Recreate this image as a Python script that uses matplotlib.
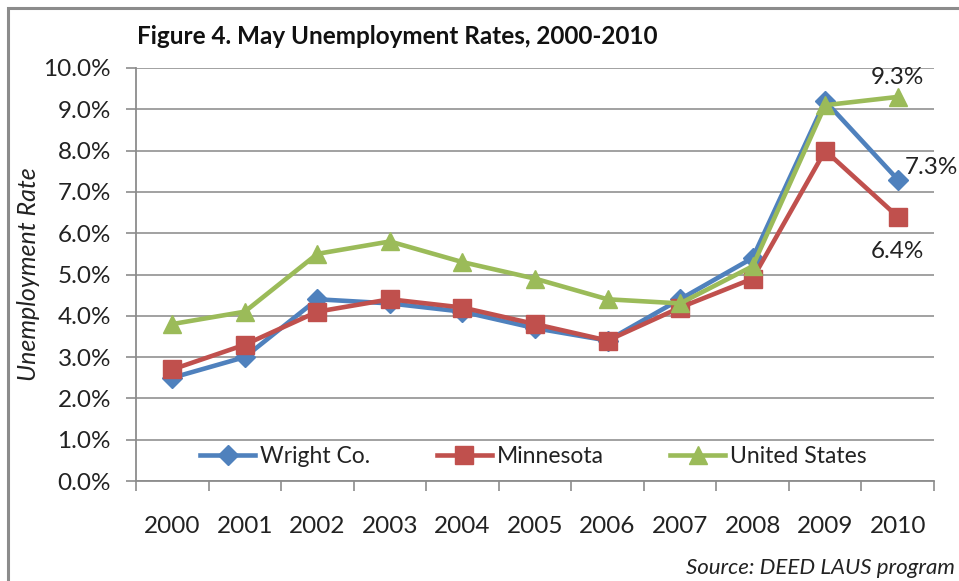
import matplotlib
matplotlib.use("Agg")
import matplotlib.pyplot as plt
from matplotlib.patches import Rectangle
from matplotlib.ticker import FixedLocator, NullFormatter

years = ["2000", "2001", "2002", "2003", "2004", "2005", "2006", "2007", "2008", "2009", "2010"]
wright = [2.5, 3.0, 4.4, 4.3, 4.1, 3.7, 3.4, 4.4, 5.4, 9.2, 7.3]
minnesota = [2.7, 3.3, 4.1, 4.4, 4.2, 3.8, 3.4, 4.2, 4.9, 8.0, 6.4]
united_states = [3.8, 4.1, 5.5, 5.8, 5.3, 4.9, 4.4, 4.3, 5.2, 9.1, 9.3]
yticks = [0, 1, 2, 3, 4, 5, 6, 7, 8, 9, 10]

plt.rcParams['font.family'] = ['Lato', 'DejaVu Sans']

fig = plt.figure(figsize=(9.59, 5.81), dpi=100)
ax = fig.add_axes([136/959, 1-481/581, (934-136)/959, (481-68)/581])

# outer border
fig.patches.append(Rectangle((7.5/959, -0.1), 1.2, 1 - 7.5/581 + 0.1, transform=fig.transFigure,
                             fill=False, edgecolor='#8c8c8c', linewidth=2.2))

x = list(range(len(years)))
ax.plot(x, wright, color='#4F81BD', marker='D', markersize=10, linewidth=3.3, label='Wright Co.', zorder=3)
ax.plot(x, minnesota, color='#C0504D', marker='s', markersize=13, linewidth=3.3, label='Minnesota', zorder=4)
ax.plot(x, united_states, color='#9BBB59', marker='^', markersize=13, linewidth=3.3, label='United States', zorder=5)

ax.set_xlim(-0.5, len(years) - 0.5)
ax.set_ylim(0, 10)
ax.set_yticks(yticks)
ax.set_yticklabels([f"{v:.1f}%" for v in yticks], fontsize=17.5, color='#222222')
ax.yaxis.grid(True, color='#9a9a9a', linewidth=1.3)
ax.set_axisbelow(True)

ax.set_xticks(x)
ax.set_xticklabels(years, fontsize=17.5, color='#222222')
ax.tick_params(axis='x', length=0, pad=25)
ax.xaxis.set_minor_locator(FixedLocator([i - 0.5 for i in range(len(years) + 1)]))
ax.xaxis.set_minor_formatter(NullFormatter())
ax.tick_params(axis='x', which='minor', length=7, color='#8c8c8c', width=1.2)
ax.tick_params(axis='y', length=7, color='#8c8c8c', width=1.2, pad=11)

for s in ['top', 'right']:
    ax.spines[s].set_visible(False)
for s in ['left', 'bottom']:
    ax.spines[s].set_color('#8c8c8c')
    ax.spines[s].set_linewidth(1.3)

ax.set_ylabel('Unemployment Rate', fontsize=18, style='italic', color='#222222')
ax.yaxis.set_label_coords(-(136-40)/798, 0.5)

ax.annotate("9.3%", (10, 9.3), xytext=(0, 14), textcoords='offset points', ha='center', va='center', fontsize=17.5, color='#222222')
ax.annotate("7.3%", (10, 7.3), xytext=(5, 9), textcoords='offset points', ha='left', va='center', fontsize=17.5, color='#222222')
ax.annotate("6.4%", (10, 6.4), xytext=(0, -25), textcoords='offset points', ha='center', va='center', fontsize=17.5, color='#222222')

leg = ax.legend(loc='center', bbox_to_anchor=(0.498, 0.06), ncol=3, frameon=True, fontsize=16.5,
                handlelength=2.4, columnspacing=2.9, handletextpad=0.22, borderaxespad=0, borderpad=0.2)
leg.get_frame().set_facecolor('white')
leg.get_frame().set_edgecolor('none')
for t in leg.get_texts():
    t.set_color('#222222')

fig.text(137/959, 1-37/581, "Figure 4. May Unemployment Rates, 2000-2010", fontsize=17.5, fontweight='bold',
         ha='left', va='center', color='#111111')
fig.text(955/959, 1-568/581, "Source: DEED LAUS program", fontsize=16, style='italic',
         ha='right', va='center', color='#222222')

fig.savefig("out.png", dpi=100)
